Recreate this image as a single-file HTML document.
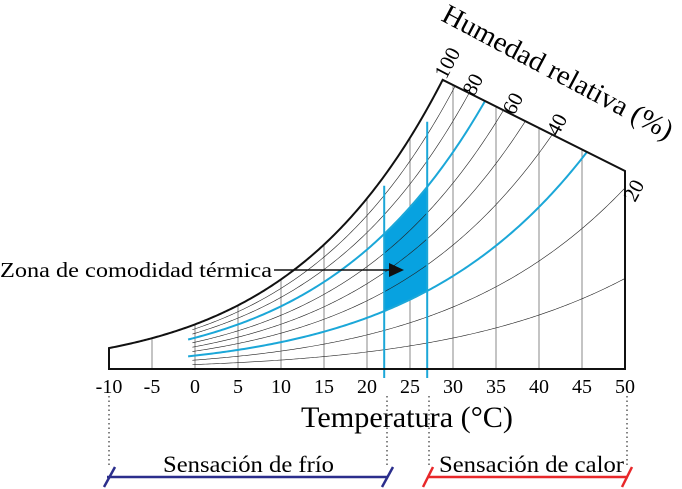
<!DOCTYPE html>
<html><head><meta charset="utf-8"><style>
html,body{margin:0;padding:0;background:#fff;}
svg{display:block;font-family:"Liberation Serif",serif;}
</style></head><body>
<svg id="chart" width="682" height="489" viewBox="0 0 682 489" xmlns="http://www.w3.org/2000/svg">
<g id="grid"></g>
<g id="zone"></g>
<g id="curves"></g>
<g id="frame"></g>
<g id="ticks"></g>
<g id="rhlabels"></g>
<text x="440" y="20" font-size="28" textLength="257" lengthAdjust="spacingAndGlyphs" transform="rotate(27.9 440 20)">Humedad relativa (%)</text>
<text x="301" y="427" font-size="30" textLength="212" lengthAdjust="spacingAndGlyphs">Temperatura (°C)</text>
<text x="0" y="277" font-size="21" textLength="272" lengthAdjust="spacingAndGlyphs">Zona de comodidad térmica</text>
<line x1="274" y1="270" x2="392" y2="270" stroke="#111" stroke-width="1.6"/>
<polygon points="389,263 404,270 389,277" fill="#111"/>
<g stroke="#333" stroke-width="1.2" stroke-dasharray="1.5,3">
<line x1="109" y1="396" x2="109" y2="468"/>
<line x1="387" y1="396" x2="387" y2="468"/>
<line x1="429" y1="396" x2="429" y2="468"/>
<line x1="627" y1="396" x2="627" y2="468"/>
</g>
<text x="163" y="472" font-size="23" textLength="171" lengthAdjust="spacingAndGlyphs">Sensación de frío</text>
<text x="439" y="472" font-size="23" textLength="185" lengthAdjust="spacingAndGlyphs">Sensación de calor</text>
<g stroke="#2b2e8c" stroke-width="2.5">
<line x1="107" y1="477" x2="388" y2="477"/><line x1="104" y1="487" x2="115" y2="467"/><line x1="382" y1="487" x2="393" y2="467"/>
</g>
<g stroke="#e8282a" stroke-width="2.5">
<line x1="428" y1="477" x2="628" y2="477"/><line x1="423" y1="487" x2="433" y2="467"/><line x1="622" y1="487" x2="632" y2="467"/>
</g>
</svg>
<script>
const rhLevels = [10, 20, 30, 40, 50, 60, 70, 80, 90];
const highlightLevels = [30, 70];
const tickValues = [-10, -5, 0, 5, 10, 15, 20, 25, 30, 35, 40, 45, 50];
const tickLabels = ["-10", "-5", "0", "5", "10", "15", "20", "25", "30", "35", "40", "45", "50"];
const gridTemps = [-5, 0, 5, 10, 15, 20, 25, 30, 35, 40, 45];
const comfortTemps = [22, 27];
const comfortRH = [30, 70];
const rhLabelValues = ["100", "80", "60", "40", "20"];
const tMin = -10, tMax = 50, cornerT = 28.8, curveStartT = -0.3;

const NS = "http://www.w3.org/2000/svg";
const BASE = 369;
function xOf(t){ return 109 + (t + 10) * 8.6; }
function es(t){ return 6.112 * Math.exp(17.67 * t / (t + 243.5)); }
function yOf(t, rh){ return BASE - 7.3 * (rh / 100) * es(t); }
const corner = [xOf(cornerT), yOf(cornerT, 100)];
const rightTop = [xOf(tMax), 171];
function yTop(x){ return corner[1] + (x - corner[0]) * (rightTop[1] - corner[1]) / (rightTop[0] - corner[0]); }
function ceilingY(t){ return t <= cornerT ? yOf(t, 100) : yTop(xOf(t)); }
function mk(tag, attrs, parent){ const e = document.createElementNS(NS, tag); for (const k in attrs) e.setAttribute(k, attrs[k]); parent.appendChild(e); return e; }

function curvePts(rh, t0){
  const pts = [];
  for (let t = t0; t <= tMax + 1e-9; t += 0.25){
    const x = xOf(t), y = yOf(t, rh);
    if (x > corner[0] && y < yTop(x)){
      let a = t - 0.25, b = t;
      for (let i = 0; i < 30; i++){ const m = (a + b) / 2; const xm = xOf(m); if (xm > corner[0] && yOf(m, rh) < yTop(xm)) b = m; else a = m; }
      pts.push([xOf(a), yOf(a, rh)]); return pts;
    }
    pts.push([x, y]);
  }
  return pts;
}
const P = pts => pts.map((p, i) => (i ? "L" : "M") + p[0].toFixed(2) + "," + p[1].toFixed(2)).join("");

const grid = document.getElementById("grid");
gridTemps.forEach(t => {
  const l = mk("line", {x1: xOf(t), y1: BASE, x2: xOf(t), y2: ceilingY(t), stroke: "#8a8a8a", "stroke-width": 1}, grid);
  
  
});

const zone = document.getElementById("zone");
const zp = [];
for (let t = comfortTemps[0]; t <= comfortTemps[1] + 1e-9; t += 0.25) zp.push([xOf(t), yOf(t, comfortRH[1])]);
for (let t = comfortTemps[1]; t >= comfortTemps[0] - 1e-9; t -= 0.25) zp.push([xOf(t), yOf(t, comfortRH[0])]);
const zf = mk("path", {d: P(zp) + "Z", fill: "#07a2e0"}, zone);



const curves = document.getElementById("curves");
rhLevels.forEach(rh => {
  const hi = highlightLevels.includes(rh);
  const c = mk("path", {d: P(curvePts(rh, hi ? curveStartT - 0.5 : curveStartT)), fill: "none", stroke: hi ? "#1ba7d8" : "#222", "stroke-width": hi ? 2 : 0.6}, curves);
  
  
});
comfortTemps.forEach(t => {
  const v = mk("line", {x1: xOf(t), y1: BASE + 9, x2: xOf(t), y2: BASE - (BASE - yOf(t, 100)) * 0.95, stroke: "#1ba7d8", "stroke-width": 2}, curves);
  
  
});

const frame = document.getElementById("frame");
const sat = [];
for (let t = tMin; t <= cornerT + 1e-9; t += 0.2) sat.push([xOf(t), yOf(t, 100)]);
sat.push(corner);
const outline = [[xOf(tMin), BASE]].concat(sat, [rightTop, [xOf(tMax), BASE]]);
const fr = mk("path", {d: P(outline) + "Z", fill: "none", stroke: "#111", "stroke-width": 2, "stroke-linejoin": "miter"}, frame);



const ticks = document.getElementById("ticks");
tickValues.forEach((t, i) => {
  const tx = mk("text", {x: xOf(t), y: 393, "font-size": 20, "text-anchor": "middle"}, ticks);
  tx.textContent = tickLabels[i];
  
  
});

const rl = document.getElementById("rhlabels");
const rhLabelAnchors = [[446, 80], [474, 97], [514, 116], [558, 137], [635, 203]];
rhLabelValues.forEach((s, i) => {
  const a = rhLabelAnchors[i];
  const tx = mk("text", {x: a[0], y: a[1], "font-size": 21, transform: "rotate(-62 " + a[0] + " " + a[1] + ")"}, rl);
  tx.textContent = s;
  
  
});
</script>
</body></html>
